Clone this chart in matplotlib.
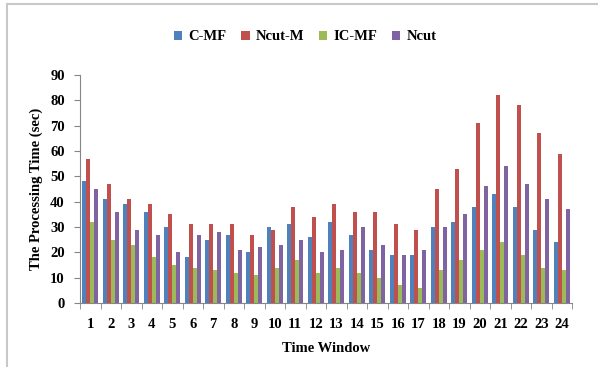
import matplotlib.pyplot as plt
import numpy as np
from matplotlib.patches import Rectangle

windows = [str(i) for i in range(1, 25)]
c_mf = [48, 41, 39, 36, 30, 18, 25, 27, 20, 30, 31, 26, 32, 27, 21, 19, 19, 30, 32, 38, 43, 38, 29, 24]
ncut_m = [57, 47, 41, 39, 35, 31, 31, 31, 27, 29, 38, 34, 39, 36, 36, 31, 29, 45, 53, 71, 82, 78, 67, 59]
ic_mf = [32, 25, 23, 18, 15, 14, 13, 12, 11, 14, 17, 12, 14, 12, 10, 7, 6, 13, 17, 21, 24, 19, 14, 13]
ncut = [45, 36, 29, 27, 20, 27, 28, 21, 22, 23, 25, 20, 21, 30, 23, 19, 21, 30, 35, 46, 54, 47, 41, 37]

series = [("C-MF", c_mf, "#4F81BD"), ("Ncut-M", ncut_m, "#C0504D"),
          ("IC-MF", ic_mf, "#9BBB59"), ("Ncut", ncut, "#8064A2")]

plt.rcParams['font.family'] = ['Liberation Serif', 'DejaVu Serif']
plt.rcParams['font.weight'] = 'bold'

fig = plt.figure(figsize=(5.98, 3.67), dpi=100)
fig.patches.append(Rectangle((7 / 598, -0.1), 1.2, 1 - 4 / 367 + 0.1, transform=fig.transFigure,
                             fill=False, edgecolor="#c8c8c8", linewidth=1.5))
ax = fig.add_axes([80 / 598, 1 - 303 / 367, 492 / 598, 228 / 367])

x = np.arange(len(windows))
w = 0.195
for k, (name, vals, col) in enumerate(series):
    ax.bar(x + (k - 1.5) * w, vals, width=w, color=col, label=name)

ax.set_xlim(-0.5, len(windows) - 0.5)
ax.set_ylim(0, 90)
ax.set_yticks(range(0, 91, 10))
ax.set_xticks(x)
ax.set_xticklabels(windows)
ax.set_xticks(np.arange(-0.5, len(windows), 1), minor=True)
ax.tick_params(axis='x', which='major', length=0, labelsize=10.5, pad=11)
ax.tick_params(axis='x', which='minor', length=4, color="#868686")
ax.tick_params(axis='y', length=4, color="#868686", labelsize=10.5, pad=7)
for s in ["top", "right"]:
    ax.spines[s].set_visible(False)
for s in ["left", "bottom"]:
    ax.spines[s].set_color("#868686")

ax.set_xlabel("Time Window", fontsize=10.5, fontweight='bold', labelpad=8)
ax.set_ylabel("The Processing Time (sec)", fontsize=10.5, fontweight='bold', labelpad=5)

fig.legend(loc="center", bbox_to_anchor=(0.51, 1 - 37 / 367), ncol=4, frameon=False,
           fontsize=10.5, handlelength=0.6, handleheight=0.6, handletextpad=0.4, columnspacing=1.0)

fig.savefig("out.png", dpi=100)
